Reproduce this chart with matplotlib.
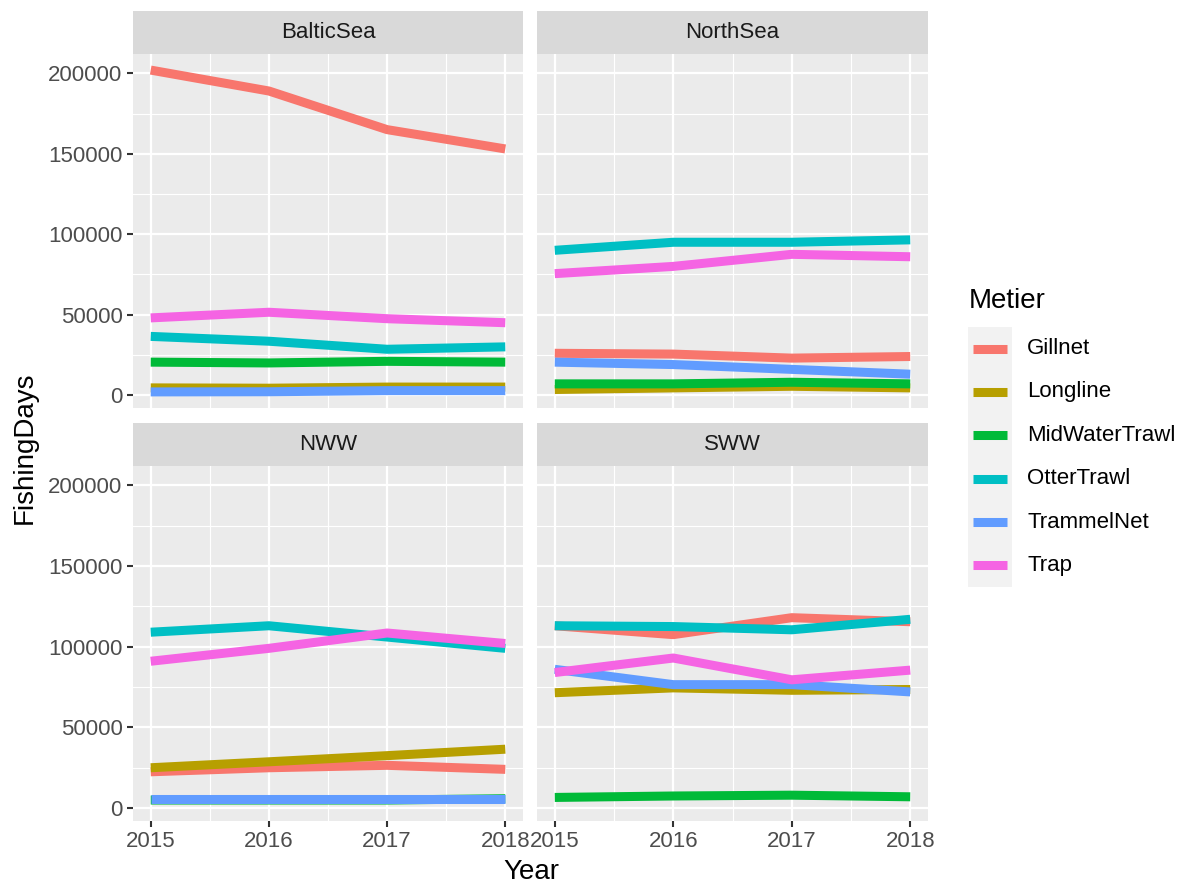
import matplotlib
matplotlib.use("Agg")
import matplotlib.pyplot as plt

plt.rcParams['font.family'] = ['Liberation Sans', 'DejaVu Sans']

# ---------------- data ----------------
years = [2015, 2016, 2017, 2018]
regions = ["BalticSea", "NorthSea", "NWW", "SWW"]
metiers = ["Gillnet", "Longline", "MidWaterTrawl", "OtterTrawl", "TrammelNet", "Trap"]

gillnet = {"BalticSea": [202000, 189000, 165000, 153000],
           "NorthSea": [26000, 25500, 23000, 24000],
           "NWW": [22500, 25000, 26500, 24000],
           "SWW": [113000, 107500, 118000, 115500]}
longline = {"BalticSea": [4500, 4300, 5000, 5000],
            "NorthSea": [3500, 4500, 5500, 4500],
            "NWW": [25000, 28700, 32500, 36500],
            "SWW": [71500, 74500, 73000, 73500]}
midwater = {"BalticSea": [20500, 20000, 21000, 20500],
            "NorthSea": [7000, 7000, 8000, 7000],
            "NWW": [5000, 5000, 5000, 5800],
            "SWW": [6600, 7500, 8000, 7000]}
otter = {"BalticSea": [36500, 33500, 28500, 30000],
         "NorthSea": [90000, 95000, 95000, 96500],
         "NWW": [109000, 113000, 106000, 99000],
         "SWW": [113000, 112500, 110500, 117000]}
trammel = {"BalticSea": [2000, 2100, 2800, 2800],
           "NorthSea": [20500, 19000, 16000, 13000],
           "NWW": [5800, 5800, 5800, 5800],
           "SWW": [86000, 76500, 76500, 72000]}
trap = {"BalticSea": [48000, 51500, 47500, 45000],
        "NorthSea": [75500, 80000, 87500, 86000],
        "NWW": [91000, 99000, 108500, 102000],
        "SWW": [84000, 93000, 79500, 85500]}

series = [gillnet, longline, midwater, otter, trammel, trap]
colors = ["#F8766D", "#B79F00", "#00BA38", "#00BFC4", "#619CFF", "#F564E3"]

yticks = [0, 50000, 100000, 150000, 200000]
yminor = [25000, 75000, 125000, 175000]
xminor = [2015.5, 2016.5, 2017.5]

# ---------------- layout ----------------
W, H = 1184, 888
fig = plt.figure(figsize=(W / 100, H / 100), dpi=100)


def box(x0, y0, x1, y1):
    return [x0 / W, 1 - y1 / H, (x1 - x0) / W, (y1 - y0) / H]


cols = [(133, 523), (537, 928)]
rows = [(54, 408), (466, 821)]
strip_h = 43

allvals = [v for s in series for r in regions for v in s[r]]
lo, hi = min(allvals), max(allvals)
pad = 0.05 * (hi - lo)
ylim = (lo - pad, hi + pad)
xlim = (2015 - 0.15, 2018 + 0.15)

small = 16
big = 20
tickcol = "#4D4D4D"

for i, reg in enumerate(regions):
    r, c = divmod(i, 2)
    x0, x1 = cols[c]
    y0, y1 = rows[r]
    ax = fig.add_axes(box(x0, y0, x1, y1))
    ax.set_facecolor("#EBEBEB")
    for sp in ax.spines.values():
        sp.set_visible(False)
    ax.set_xlim(*xlim)
    ax.set_ylim(*ylim)
    ax.set_xticks(years)
    ax.set_yticks(yticks)
    ax.set_xticks(xminor, minor=True)
    ax.set_yticks(yminor, minor=True)
    ax.grid(True, which="major", color="white", linewidth=1.6)
    ax.grid(True, which="minor", color="white", linewidth=0.8)
    ax.set_axisbelow(True)
    ax.tick_params(which="minor", length=0)
    ax.tick_params(which="major", length=4.5, width=1.5, color="#333333",
                   labelsize=small, labelcolor=tickcol, pad=3)
    if r == 0:
        ax.tick_params(axis="x", which="major", length=0, labelbottom=False)
    if c == 1:
        ax.tick_params(axis="y", which="major", length=0, labelleft=False)
    else:
        ax.set_yticklabels([str(t) for t in yticks])
    for s, col in zip(series, colors):
        ax.plot(years, s[reg], color=col, linewidth=6.5,
                solid_capstyle="butt", solid_joinstyle="round")

    sax = fig.add_axes(box(x0, y0 - strip_h, x1, y0))
    sax.set_facecolor("#D9D9D9")
    for sp in sax.spines.values():
        sp.set_visible(False)
    sax.set_xticks([])
    sax.set_yticks([])
    sax.text(0.5, 0.5, reg, ha="center", va="center", fontsize=small,
             color="#1A1A1A", transform=sax.transAxes)

# axis titles
fig.text(25 / W, 1 - 448 / H, "FishingDays", rotation=90, ha="center",
         va="center", fontsize=big, color="black")
fig.text(531 / W, 1 - 872 / H, "Year", ha="center", va="center",
         fontsize=big, color="black")

# legend
fig.text(969 / W, 1 - 301 / H, "Metier", ha="left", va="center",
         fontsize=big, color="black")
lx0, lx1, ly0, ly1 = 968, 1012, 327, 587
lax = fig.add_axes(box(lx0, ly0, lx1, ly1))
lax.set_facecolor("#F2F2F2")
for sp in lax.spines.values():
    sp.set_visible(False)
lax.set_xticks([])
lax.set_yticks([])
lax.set_xlim(0, 1)
lax.set_ylim(len(metiers), 0)
for k, (name, col) in enumerate(zip(metiers, colors)):
    lax.plot([0.12, 0.88], [k + 0.5, k + 0.5], color=col, linewidth=6.5,
             solid_capstyle="butt")
    yc = ly0 + (k + 0.5) * (ly1 - ly0) / len(metiers)
    fig.text(1027 / W, 1 - yc / H, name, ha="left", va="center",
             fontsize=small, color="black")

fig.savefig("out.png", dpi=100)
